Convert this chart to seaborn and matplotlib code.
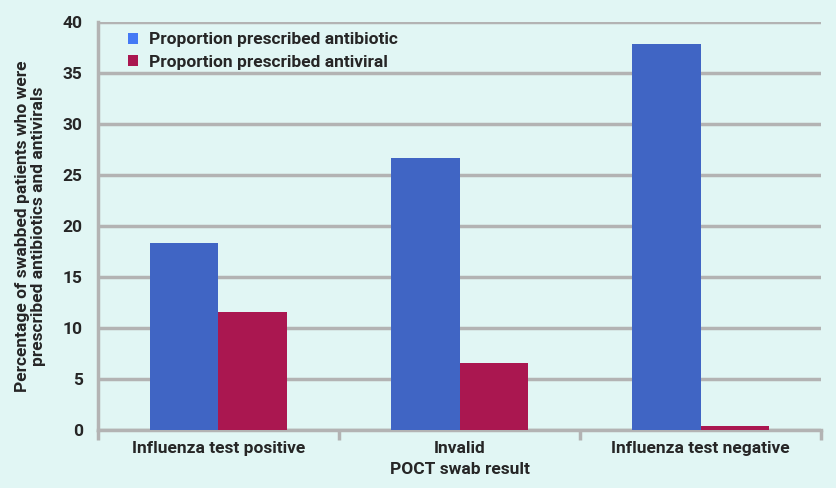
import matplotlib
matplotlib.use("Agg")
import matplotlib.pyplot as plt
import pandas as pd
import seaborn as sns

categories = ["Influenza test positive", "Invalid", "Influenza test negative"]
antibiotic = [18.3, 26.7, 37.8]
antiviral = [11.6, 6.6, 0.4]
series_names = ["Proportion prescribed antibiotic", "Proportion prescribed antiviral"]

df = pd.DataFrame({
    "result": categories * 2,
    "value": antibiotic + antiviral,
    "series": [series_names[0]] * 3 + [series_names[1]] * 3,
})

bg = "#e1f6f4"
grid_c = "#b3b3b3"
bar_colors = ["#4065c4", "#aa1750"]
legend_colors = ["#4479f5", "#aa1750"]
fs = 12.5

sns.set_theme(style="white")
plt.rcParams["font.family"] = ["Roboto", "DejaVu Sans"]
plt.rcParams["font.weight"] = "bold"

fig = plt.figure(figsize=(8.37, 4.88), dpi=100, facecolor=bg)
ax = fig.add_axes([0.117, 0.119, 0.864, 0.836])
ax.set_facecolor(bg)

sns.barplot(data=df, x="result", y="value", hue="series", palette=bar_colors,
            width=0.57, saturation=1, linewidth=0, edgecolor="none", ax=ax, zorder=3)

ax.set_ylim(0, 40)
ax.set_xlim(-0.5, 2.5)
ax.set_yticks(range(0, 41, 5))
ax.yaxis.grid(True, color=grid_c, linewidth=2.5, zorder=0)
ax.set_axisbelow(True)

for side in ["top", "right"]:
    ax.spines[side].set_visible(False)
for side in ["left", "bottom"]:
    ax.spines[side].set_color(grid_c)
    ax.spines[side].set_linewidth(2.5)

ax.tick_params(axis="y", length=7, width=2.5, color=grid_c, labelsize=fs, pad=4)
ax.tick_params(axis="x", length=0, labelsize=fs, pad=8)
ax.set_xticks([-0.5, 0.5, 1.5, 2.5], minor=True)
ax.tick_params(axis="x", which="minor", length=7, width=2.5, color=grid_c,
               direction="out", bottom=True)
for lbl in ax.get_xticklabels() + ax.get_yticklabels():
    lbl.set_fontweight("bold")

ax.set_xlabel("POCT swab result", fontsize=fs, fontweight="bold", labelpad=4)
ax.set_ylabel("Percentage of swabbed patients who were\nprescribed antibiotics and antivirals",
              fontsize=fs, fontweight="bold", labelpad=12, linespacing=1.05)

leg = ax.legend(loc="upper left", bbox_to_anchor=(0.02, 1.013), frameon=False,
                handlelength=0.6, handleheight=0.6, handletextpad=0.6,
                labelspacing=0.45, prop={"weight": "bold", "size": fs})
for h, c in zip(leg.legend_handles, legend_colors):
    h.set_facecolor(c)
    h.set_edgecolor(c)

fig.savefig("out.png", dpi=100, facecolor=bg)
